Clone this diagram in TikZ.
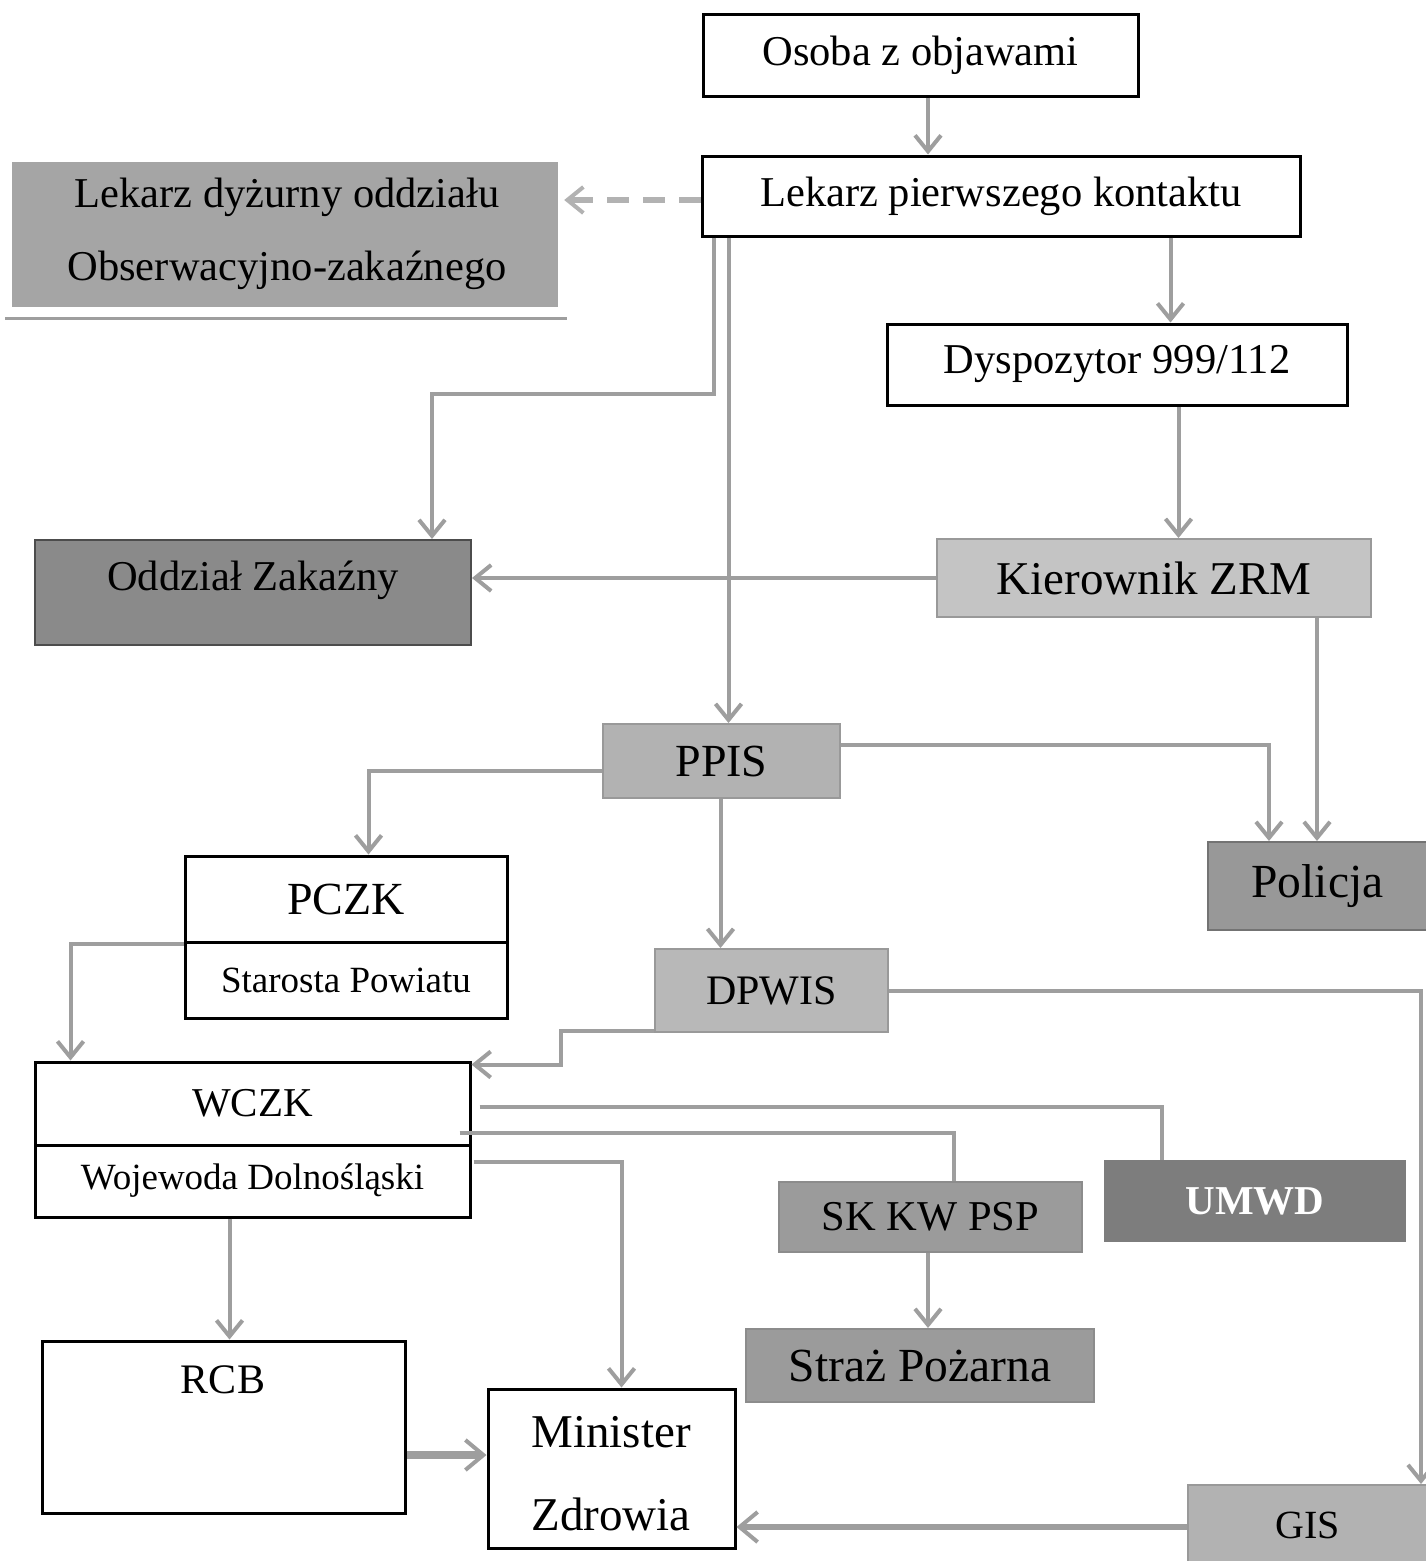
\documentclass[tikz,border=0pt]{standalone}
\usepackage{fontspec}
\setmainfont{Liberation Serif}
\usetikzlibrary{arrows.meta,calc}
\definecolor{linegray}{RGB}{158,158,158}
\definecolor{dashgray}{RGB}{178,178,178}
\definecolor{fillA}{RGB}{165,165,165}
\definecolor{fillOZ}{RGB}{138,138,138}
\definecolor{fillK}{RGB}{196,196,196}
\definecolor{fillP}{RGB}{178,178,178}
\definecolor{fillPol}{RGB}{152,152,152}
\definecolor{fillD}{RGB}{184,184,184}
\definecolor{fillU}{RGB}{125,125,125}
\definecolor{fillS}{RGB}{155,155,155}
\definecolor{fillG}{RGB}{178,178,178}
\newcommand{\fs}[1]{\fontsize{#1}{#1}\selectfont}
\tikzset{
  box/.style={draw=black, line width=3pt, fill=white, inner sep=0pt, align=center},
  gbox/.style={draw=black!55, line width=2pt, inner sep=0pt, align=center},
  nobox/.style={draw=none, inner sep=0pt, align=center},
  conn/.style={draw=linegray, line width=4pt, -{Straight Barb[length=16pt,width=26pt,line width=4pt]}},
  plain/.style={draw=linegray, line width=4pt},
  thick conn/.style={conn, line width=8pt, -{Straight Barb[length=18pt,width=30pt,line width=4pt]}},
}
\begin{document}
\begin{tikzpicture}[x=1pt,y=-1pt]
\useasboundingbox (0,0) rectangle (1425,1561);
\fill[white] (0,0) rectangle (1425,1561);

% boxes
\node[box, minimum width=435pt, minimum height=82pt] (osoba) at (920.5,55) {\fs{42.5}Osoba z objawami};
\node[box, minimum width=598pt, minimum height=80pt] (lpk) at (1001,196) {\fs{42.5}Lekarz pierwszego kontaktu};
\node[nobox, fill=fillA, minimum width=546pt, minimum height=145pt] (ld) at (285,234.5) {};
\node[nobox] (ld1) at (287,197) {\fs{42.5}Lekarz dyżurny oddziału};
\node[nobox] (ld2) at (287,270) {\fs{42.5}Obserwacyjno-zakaźnego};
\draw[linegray, line width=3pt] (5,318) -- (567,318);
\node[box, minimum width=460pt, minimum height=81pt] (dysp) at (1117,364.5) {\fs{42.5}Dyspozytor 999/112};
\node[gbox, fill=fillOZ, draw=black!70, minimum width=436pt, minimum height=105pt] (oz) at (253,592.5) {};
\node[nobox] (ozt) at (253,580) {\fs{42.5}Oddział Zakaźny};
\node[gbox, fill=fillK, draw=black!40, minimum width=434pt, minimum height=78pt] (kzrm) at (1154,578) {\fs{47}Kierownik ZRM};
\node[gbox, fill=fillP, draw=black!40, minimum width=237pt, minimum height=74pt] (ppis) at (721.5,761) {\fs{46}PPIS};
\node[gbox, fill=fillPol, minimum width=219pt, minimum height=88pt] (pol) at (1317.5,886) {\fs{47.5}Policja};
\node[box, minimum width=322pt, minimum height=86pt] (pczkt) at (346,899) {\fs{46}PCZK};
\node[box, minimum width=322pt, minimum height=76pt] (pczkb) at (346,980) {\fs{37}Starosta Powiatu};
\node[gbox, fill=fillD, draw=black!40, minimum width=233pt, minimum height=83pt] (dpwis) at (771.5,990.5) {\fs{42}DPWIS};
\node[box, minimum width=435pt, minimum height=83pt] (wczkt) at (252.5,1103.5) {\fs{41}WCZK};
\node[box, minimum width=435pt, minimum height=72pt] (wczkb) at (252.5,1181) {\fs{37}Wojewoda Dolnośląski};
\node[nobox, fill=fillU, minimum width=302pt, minimum height=82pt, text=white, font=\bfseries] (umwd) at (1255,1201) {\fs{41}UMWD};
\node[gbox, fill=fillS, draw=black!45, minimum width=303pt, minimum height=70pt] (sk) at (930.5,1217) {\fs{42.5}SK KW PSP};
\node[gbox, fill=fillS, draw=black!45, minimum width=348pt, minimum height=73pt] (straz) at (920,1365.5) {\fs{47.5}Straż Pożarna};
\node[box, minimum width=363pt, minimum height=172pt] (rcb) at (223.5,1427) {};
\node[nobox] (rcbt) at (223,1380) {\fs{42}RCB};
\node[box, minimum width=247pt, minimum height=159pt] (min) at (611.5,1468.5) {};
\node[nobox] (min1) at (611,1432) {\fs{47}Minister};
\node[nobox] (min2) at (611,1514) {\fs{47}Zdrowia};
\node[gbox, fill=fillG, draw=black!40, minimum width=240pt, minimum height=80pt] (gis) at (1308,1525) {\fs{40}GIS};

% connectors
\draw[conn] ($(osoba.south)+(7.5,0)$) coordinate (a1) -- (a1 |- lpk.north);
\draw[draw=dashgray, line width=6pt, dash pattern=on 22pt off 14pt,
      -{Straight Barb[length=16pt,width=26pt,line width=4pt]}, shorten >=6pt]
      ($(lpk.west)+(0,4)$) coordinate (a2) -- (a2 -| ld.east);
\draw[conn] ($(lpk.south west)+(470,0)$) coordinate (a3) -- (a3 |- dysp.north);
\draw[conn] ($(lpk.south west)+(13,0)$) -- ++(0,156) -| ($(oz.north east)+(-40,0)$);
\draw[conn] ($(lpk.south west)+(28,0)$) coordinate (a5) -- (a5 |- ppis.north);
\draw[conn] ($(dysp.south west)+(293,0)$) coordinate (a6) -- (a6 |- kzrm.north);
\draw[conn] (kzrm.west) -- (kzrm.west -| oz.east);
\draw[conn] ($(kzrm.south west)+(381,0)$) coordinate (a8) -- (a8 |- pol.north);
\draw[conn] ($(ppis.north east)+(0,22)$) -| ($(pol.north west)+(62,0)$);
\draw[conn] ($(ppis.west)+(0,10)$) -| ($(pczkt.north west)+(185,0)$);
\draw[conn] ($(ppis.south)+(-1,0)$) coordinate (a11) -- (a11 |- dpwis.north);
\draw[conn] (pczkt.south west) -| ($(wczkt.north west)+(37,0)$);
\draw[conn] ($(dpwis.south west)+(0,-2)$) -- ++(-93,0) |- ($(wczkt.north east)+(0,4)$);
\draw[conn] (dpwis.east) -| ($(gis.north east)+(-8,0)$);
\draw[plain] ($(wczkt.east)+(8,3.5)$) -| ($(umwd.north west)+(58,0)$);
\draw[plain] ($(wczkt.east)+(-12,29.5)$) -| ($(sk.north west)+(176,0)$);
\draw[conn] ($(wczkb.east)+(2,-19)$) -| ($(min.north west)+(135,0)$);
\draw[conn] ($(wczkb.south west)+(196,0)$) coordinate (a18) -- (a18 |- rcb.north);
\draw[conn] ($(sk.south)+(-2.5,0)$) coordinate (a19) -- (a19 |- straz.north);
\draw[thick conn] ($(rcb.east)+(0,28)$) coordinate (a20) -- (a20 -| min.west);
\draw[thick conn, line width=6pt] ($(gis.west)+(0,2)$) coordinate (a21) -- (a21 -| min.east);
\end{tikzpicture}
\end{document}
